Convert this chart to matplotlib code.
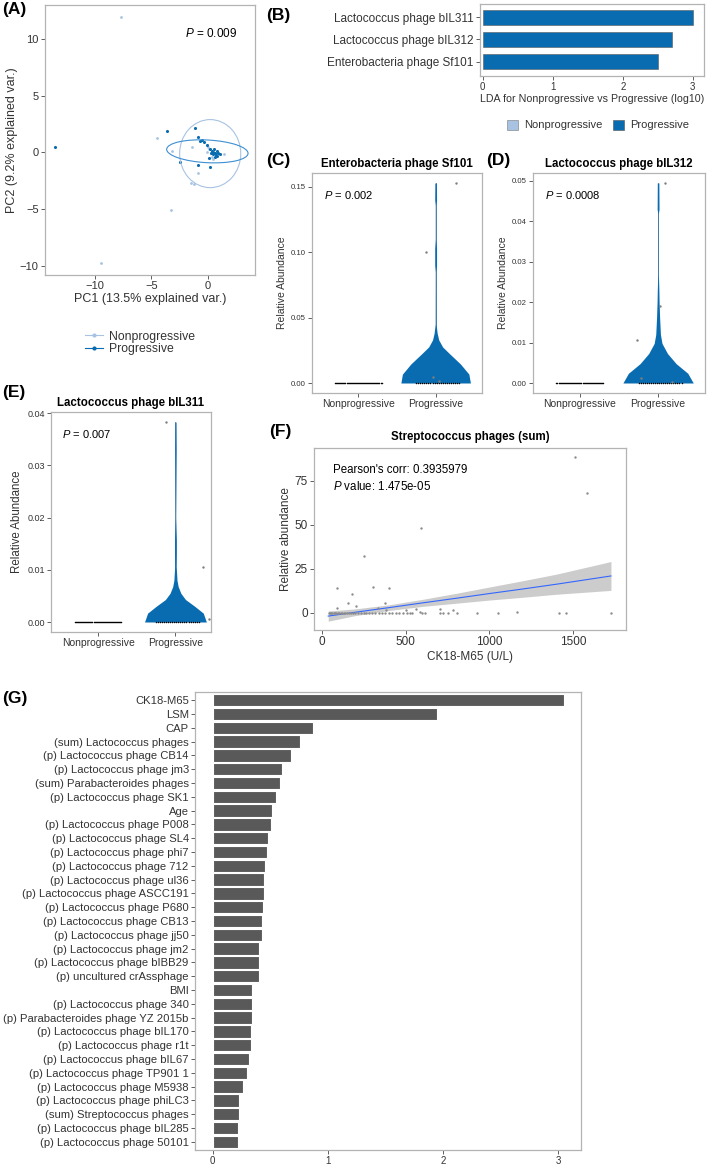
"""Multi-panel phage figure: PCA (A), LEfSe LDA (B), violins (C-E), correlation (F), RF importance (G)."""

import matplotlib
import numpy as np

matplotlib.use("Agg")
import matplotlib.pyplot as plt  # noqa: E402
from matplotlib.lines import Line2D  # noqa: E402
from matplotlib.patches import Ellipse, Patch  # noqa: E402

plt.rcParams["font.family"] = ["Liberation Sans", "DejaVu Sans"]
plt.rcParams["mathtext.fontset"] = "custom"
plt.rcParams["mathtext.rm"] = "Liberation Sans"
plt.rcParams["mathtext.it"] = "Liberation Sans:italic"

# ---- (A) PCA ----
PCA_NONPROG_PC1 = [-7.7, -9.47, -3.3, -4.54, -3.16, -1.45, -0.91, -1.53, -1.21, 1.42,
                   0.12, 0.32, -0.12, 0.47, 0.03]
PCA_NONPROG_PC2 = [11.9, -9.77, -5.1, 1.25, 0.16, 0.51, -1.78, -2.72, -2.8, -0.13,
                   0.28, -0.37, 0.07, -0.6, 0.51]
PCA_PROG_PC1 = [-13.5, -3.66, -1.15, -0.86, -0.56, -0.35, -0.7, -0.06, 0.18, -2.48,
                -0.86, 0.18, 0.12, 0.27, 0.47, 0.62, 0.77, 0.91, 0.71, 0.41, 0.53,
                1.06, 0.32, 0.83, 0.62]
PCA_PROG_PC2 = [0.51, 1.86, 2.13, 1.39, 1.1, 0.95, 1.0, 0.66, 0.31, -0.87, -1.1, -1.25,
                -0.51, -0.07, 0.07, -0.07, 0.16, -0.01, -0.22, -0.13, 0.28, -0.13, 0.16,
                -0.31, -0.37]
# ellipses: centre x, centre y, width, height, angle
ELLIPSE_NONPROG = (0.2, -0.1, 5.4, 6.0, 0.0)
ELLIPSE_PROG = (-0.05, 0.1, 7.2, 2.0, -3.0)
PCA_P = "0.009"

# ---- (B) LEfSe ----
LDA_NAMES = ["Lactococcus phage bIL311", "Lactococcus phage bIL312", "Enterobacteria phage Sf101"]
LDA_SCORES = [3.0, 2.7, 2.5]

# ---- (C-E) violins: progressive-group density profile (value, half width) ----
GROUPS = ["Nonprogressive", "Progressive"]
N_NONPROG_ZERO = 46
N_PROG_ZERO = 22

C_TITLE, C_P = "Enterobacteria phage Sf101", "0.002"
C_PROF_Y = [0.0, 0.0068, 0.0146, 0.0224, 0.0276, 0.033, 0.038, 0.045, 0.085, 0.09, 0.103,
            0.11, 0.136, 0.14, 0.153]
C_PROF_W = [0.45, 0.43, 0.32, 0.18, 0.09, 0.04, 0.02, 0.006, 0.005, 0.012, 0.012, 0.005,
            0.005, 0.012, 0.01]
C_PTS_DX = [0.26, -0.13, -0.04, 0.04]
C_PTS_Y = [0.153, 0.100, 0.0047, 0.0018]

D_TITLE, D_P = "Lactococcus phage bIL312", "0.0008"
D_PROF_Y = [0.0, 0.0024, 0.0048, 0.0073, 0.0098, 0.012, 0.016, 0.02, 0.023, 0.027, 0.042,
            0.043, 0.0495]
D_PROF_W = [0.45, 0.38, 0.23, 0.12, 0.05, 0.03, 0.02, 0.013, 0.01, 0.004, 0.004, 0.012,
            0.01]
D_PTS_DX = [0.09, 0.03, -0.27, -0.22, 0.18]
D_PTS_Y = [0.0495, 0.019, 0.0106, 0.0013, 0.0003]

E_TITLE, E_P = "Lactococcus phage bIL311", "0.007"
E_PROF_Y = [0.0, 0.0017, 0.003, 0.0043, 0.0055, 0.0068, 0.008, 0.0106, 0.013, 0.0157,
            0.02, 0.033, 0.0383]
E_PROF_W = [0.4, 0.36, 0.25, 0.13, 0.07, 0.035, 0.02, 0.01, 0.012, 0.012, 0.004, 0.01,
            0.008]
E_PTS_DX = [-0.12, 0.36, 0.43]
E_PTS_Y = [0.0383, 0.0105, 0.0006]

# ---- (F) correlation ----
F_X = [1512, 1582, 592, 253, 92, 307, 401, 179, 157, 201, 377, 88, 333, 380, 502, 560,
       586, 705, 781, 1163,
       40, 48, 55, 62, 70, 78, 86, 95, 104, 112, 120, 130, 140, 150, 162, 175, 188, 200,
       215, 230, 248, 262, 280, 300, 318, 338, 358, 378, 400, 420, 440, 462, 482, 505,
       525, 538, 596, 616, 705, 725, 755, 805, 925, 1054, 1417, 1457, 1727]
F_Y = [88.8, 68.4, 48.5, 32.4, 14.0, 14.6, 14.4, 10.6, 5.9, 4.2, 5.9, 2.6, 3.0, 1.5, 1.5,
       2.0, 0.8, 2.5, 1.7, 0.5] + [0.0] * 47
F_FIT_X = [37, 200, 400, 600, 800, 1000, 1200, 1400, 1727]
F_FIT_Y = [-1.8, 0.4, 3.0, 5.7, 8.3, 11.0, 13.6, 16.3, 21.0]
F_FIT_LO = [-4.7, -1.5, 1.4, 3.7, 5.5, 7.3, 8.9, 10.6, 12.8]
F_FIT_HI = [1.1, 2.3, 4.6, 7.7, 11.1, 14.7, 18.3, 22.0, 29.2]

# ---- (G) importance ----
IMP_NAMES = ["CK18-M65", "LSM", "CAP", "(sum) Lactococcus phages", "(p) Lactococcus phage CB14",
             "(p) Lactococcus phage jm3", "(sum) Parabacteroides phages",
             "(p) Lactococcus phage SK1", "Age", "(p) Lactococcus phage P008",
             "(p) Lactococcus phage SL4", "(p) Lactococcus phage phi7",
             "(p) Lactococcus phage 712", "(p) Lactococcus phage ul36",
             "(p) Lactococcus phage ASCC191", "(p) Lactococcus phage P680",
             "(p) Lactococcus phage CB13", "(p) Lactococcus phage jj50",
             "(p) Lactococcus phage jm2", "(p) Lactococcus phage bIBB29",
             "(p) uncultured crAssphage", "BMI", "(p) Lactococcus phage 340",
             "(p) Parabacteroides phage YZ 2015b", "(p) Lactococcus phage bIL170",
             "(p) Lactococcus phage r1t", "(p) Lactococcus phage bIL67",
             "(p) Lactococcus phage TP901 1", "(p) Lactococcus phage M5938",
             "(p) Lactococcus phage phiLC3", "(sum) Streptococcus phages",
             "(p) Lactococcus phage bIL285", "(p) Lactococcus phage 50101"]
IMP_VALUES = [3.05, 1.95, 0.875, 0.76, 0.68, 0.60, 0.585, 0.55, 0.52, 0.505, 0.48, 0.475,
              0.455, 0.45, 0.45, 0.435, 0.43, 0.43, 0.40, 0.40, 0.40, 0.345, 0.34, 0.34,
              0.335, 0.33, 0.315, 0.30, 0.265, 0.23, 0.225, 0.22, 0.22]

W, H = 709, 1171
PROG = "#0a6cb0"
NONPROG = "#a8c3e2"
FRAME = "#b3b3b3"
TXT = "#333333"


def px_axes(fig, x0, y0, x1, y1):
    return fig.add_axes([x0 / W, 1 - y1 / H, (x1 - x0) / W, (y1 - y0) / H])


def style(ax, size):
    for s in ax.spines.values():
        s.set_color(FRAME)
        s.set_linewidth(0.9)
    ax.tick_params(length=3, width=0.6, color="#444444", labelsize=size,
                   labelcolor=TXT, pad=1.5)


def violin(ax, title, pval, prof_y, prof_w, dx, ys, yticks, xlim=(0.4, 2.6),
           ysize=5.6, ylabsize=7.5):
    prof_y, prof_w = np.array(prof_y), np.array(prof_w)
    ax.plot([2, 2], [prof_y[0], prof_y[-1]], color="#8a8a8a", lw=0.6, zorder=1)
    ax.fill_betweenx(prof_y, 2 - prof_w, 2 + prof_w, color=PROG, lw=0, zorder=2)
    ax.scatter(1 + np.linspace(-0.3, 0.3, N_NONPROG_ZERO), np.zeros(N_NONPROG_ZERO),
               s=1.2, color="black", zorder=3, lw=0)
    ax.scatter(2 + np.linspace(-0.25, 0.3, N_PROG_ZERO), np.zeros(N_PROG_ZERO),
               s=1.2, color="black", zorder=3, lw=0)
    ax.scatter([2 + d for d in dx], ys, s=3, color="#7f7f7f", zorder=3, lw=0)
    top = max(prof_y[-1], max(ys))
    pad = 0.05 * top
    ax.set_ylim(-pad, top + pad)
    ax.set_yticks(yticks, [f"{t:.2f}" for t in yticks])
    ax.set_xlim(*xlim)
    ax.set_xticks([1, 2], GROUPS, fontsize=7.5)
    ax.set_ylabel("Relative Abundance", fontsize=ylabsize, labelpad=3, color=TXT)
    ax.set_title(title, fontsize=8.3, fontweight="bold", pad=4)
    ax.text(0.07, 0.9, f"$P$ = {pval}", transform=ax.transAxes, fontsize=8, va="center")
    style(ax, ysize)
    ax.tick_params(axis="x", labelsize=7.5)


def main() -> None:
    fig = plt.figure(figsize=(W / 100, H / 100), dpi=100)

    # (A)
    ax = px_axes(fig, 45, 5, 255, 275)
    ax.scatter(PCA_NONPROG_PC1, PCA_NONPROG_PC2, s=4, color=NONPROG, lw=0)
    ax.scatter(PCA_PROG_PC1, PCA_PROG_PC2, s=5, color=PROG, lw=0)
    for (cx, cy, w, h, a), col in ((ELLIPSE_NONPROG, NONPROG), (ELLIPSE_PROG, "#3d8fd1")):
        ax.add_patch(Ellipse((cx, cy), w, h, angle=a, fill=False, color=col, lw=0.8))
    ax.set_xlim(-14.4, 4.16)
    ax.set_ylim(-10.8, 13.0)
    ax.set_xticks([-10, -5, 0])
    ax.set_yticks([-10, -5, 0, 5, 10])
    ax.set_xlabel("PC1 (13.5% explained var.)", fontsize=9, labelpad=1, color=TXT)
    ax.set_ylabel("PC2 (9.2% explained var.)", fontsize=9, labelpad=1, color=TXT)
    ax.text(0.667, 0.896, f"$P$ = {PCA_P}", transform=ax.transAxes, fontsize=8.5,
            va="center")
    style(ax, 8)
    handles = [Line2D([], [], color=NONPROG, marker="o", ms=2, lw=0.8),
               Line2D([], [], color=PROG, marker="o", ms=2, lw=0.8)]
    fig.legend(handles, GROUPS, loc="center", bbox_to_anchor=(140 / W, 1 - 343 / H),
               frameon=False, fontsize=8.8, handlelength=1.5, labelspacing=0.05,
               handletextpad=0.5, labelcolor=TXT)

    # (B)
    ax = px_axes(fig, 480, 4, 704, 76)
    ax.barh(range(len(LDA_SCORES)), LDA_SCORES, height=0.7, color=PROG,
            edgecolor="#5a5a5a", lw=0.4)
    ax.set_yticks(range(len(LDA_NAMES)), LDA_NAMES, fontsize=8.5)
    ax.set_ylim(2.65, -0.6)
    ax.set_xlim(-0.04, 3.16)
    ax.set_xticks([0, 1, 2, 3])
    ax.set_xlabel("LDA for Nonprogressive vs Progressive (log10)", fontsize=7.7,
                  labelpad=1, color=TXT)
    style(ax, 7)
    ax.tick_params(axis="y", labelsize=8.5)
    fig.legend([Patch(fc=NONPROG, ec="#777777", lw=0.4), Patch(fc=PROG, ec="#555555", lw=0.4)],
               GROUPS, loc="center", bbox_to_anchor=(598 / W, 1 - 125 / H), ncol=2,
               frameon=False, fontsize=8, handlelength=1.0, handleheight=1.0,
               columnspacing=1.0, handletextpad=0.5, labelcolor=TXT)

    # (C) (D) (E)
    violin(px_axes(fig, 312, 173, 482, 393), C_TITLE, C_P, C_PROF_Y, C_PROF_W,
           C_PTS_DX, C_PTS_Y, [0, 0.05, 0.10, 0.15])
    violin(px_axes(fig, 533, 173, 705, 393), D_TITLE, D_P, D_PROF_Y, D_PROF_W,
           D_PTS_DX, D_PTS_Y, [0, 0.01, 0.02, 0.03, 0.04, 0.05])
    violin(px_axes(fig, 51, 412, 211, 632), E_TITLE, E_P, E_PROF_Y, E_PROF_W,
           E_PTS_DX, E_PTS_Y, [0, 0.01, 0.02, 0.03, 0.04], xlim=(0.39, 2.46),
           ysize=6.5, ylabsize=8.3)

    # (F)
    ax = px_axes(fig, 314, 448, 626, 630)
    ax.fill_between(F_FIT_X, F_FIT_LO, F_FIT_HI, color="#cccccc", lw=0)
    ax.plot(F_FIT_X, F_FIT_Y, color="#3366ff", lw=0.8)
    ax.scatter(F_X, F_Y, s=3, color="#8c8c8c", lw=0, zorder=3)
    ax.set_xlim(-48, 1817)
    ax.set_ylim(-9.7, 93.7)
    ax.set_xticks([0, 500, 1000, 1500])
    ax.set_yticks([0, 25, 50, 75])
    ax.set_xlabel("CK18-M65 (U/L)", fontsize=8.5, labelpad=2, color=TXT)
    ax.set_ylabel("Relative abundance", fontsize=8.5, labelpad=2, color=TXT)
    ax.set_title("Streptococcus phages (sum)", fontsize=8.3, fontweight="bold", pad=6)
    ax.text(0.061, 0.879, "Pearson's corr: 0.3935979", transform=ax.transAxes,
            fontsize=8.3, va="center")
    ax.text(0.061, 0.791, "$P$ value: 1.475e-05", transform=ax.transAxes,
            fontsize=8.3, va="center")
    style(ax, 8.5)

    # (G)
    ax = px_axes(fig, 195, 692, 581, 1150)
    ax.barh(range(len(IMP_VALUES)), IMP_VALUES, height=0.9, color="#595959",
            edgecolor="white", lw=0.8)
    ax.set_yticks(range(len(IMP_NAMES)), IMP_NAMES)
    ax.set_ylim(len(IMP_NAMES) - 0.4, -0.6)
    ax.set_xlim(-0.153, 3.2)
    ax.set_xticks([0, 1, 2, 3])
    style(ax, 8.1)
    ax.tick_params(axis="x", labelsize=7)

    for lab, x, y in (("(A)", 2, 2), ("(B)", 266, 8), ("(C)", 266, 153), ("(D)", 486, 153),
                      ("(E)", 2, 385), ("(F)", 269, 424), ("(G)", 2, 691)):
        fig.text(x / W, 1 - y / H, lab, fontsize=12.5, fontweight="bold", va="top")

    fig.savefig("out.png", dpi=100)


if __name__ == "__main__":
    main()
